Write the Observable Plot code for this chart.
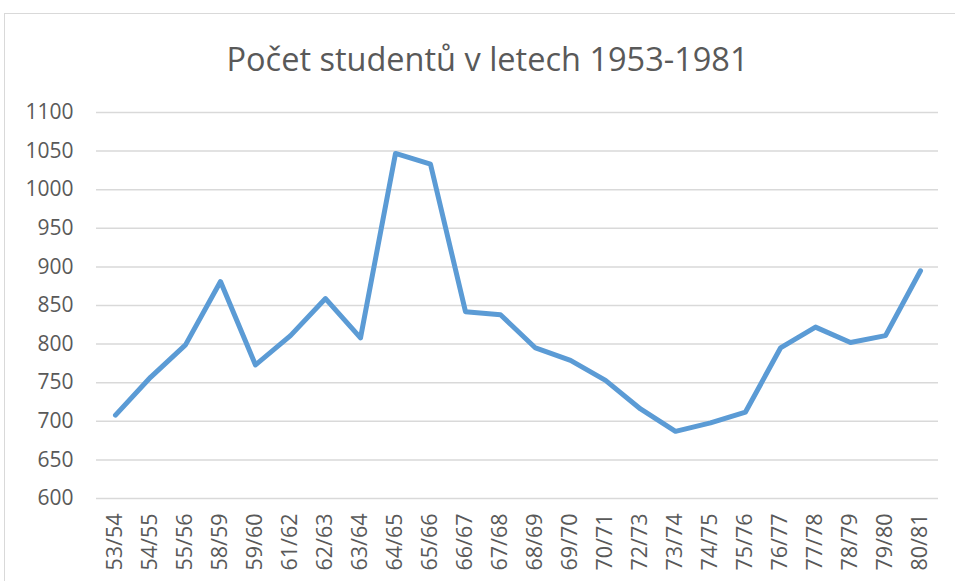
<!DOCTYPE html>
<html>
<head>
<meta charset="utf-8">
<script src="https://cdn.jsdelivr.net/npm/d3@7"></script>
<script src="https://cdn.jsdelivr.net/npm/@observablehq/plot@0.6"></script>
<style>
  html, body { margin: 0; padding: 0; background: #fff; }
  body { width: 955px; height: 581px; position: relative; overflow: hidden; font-family: "Open Sans", sans-serif; }
  #frame { position: absolute; left: 4px; top: 13px; width: 1000px; height: 700px; border-left: 1.5px solid #d9d9d9; border-top: 1.5px solid #d9d9d9; }
  #title { position: absolute; left: 0; width: 975px; top: 37px; text-align: center; font-size: 32.5px; line-height: 44px; color: #595959; font-family: "Open Sans", sans-serif; }
  #chart { position: absolute; left: 0; top: 93px; }
</style>
</head>
<body>
<div id="frame"></div>
<div id="title">Počet studentů v letech 1953-1981</div>
<div id="chart"></div>
<script>
const years = ["53/54","54/55","55/56","58/59","59/60","61/62","62/63","63/64","64/65","65/66","66/67","67/68","68/69","69/70","70/71","72/73","73/74","74/75","75/76","76/77","77/78","78/79","79/80","80/81"];
const students = [708, 757, 799, 881, 773, 811, 859, 808, 1047, 1033, 842, 838, 795, 779, 753, 716, 687, 698, 712, 795, 822, 802, 811, 895];
const yTicks = [600, 650, 700, 750, 800, 850, 900, 950, 1000, 1050, 1100];

const data = years.map((y, i) => ({year: y, value: students[i]}));

const chart = Plot.plot({
  width: 955,
  height: 488,
  marginTop: 19,
  marginBottom: 83,
  marginLeft: 96,
  marginRight: 17,
  style: {fontFamily: "Open Sans, sans-serif", background: "transparent"},
  x: {type: "point", domain: years, padding: 0.5, label: null},
  y: {domain: [600, 1100], label: null},
  marks: [
    Plot.gridY(yTicks, {stroke: "#d9d9d9", strokeOpacity: 1, strokeWidth: 1.5}),
    Plot.axisY(yTicks, {tickSize: 0, tickPadding: 23, fontSize: 21, fill: "#595959", label: null, tickFormat: d => String(d)}),
    Plot.axisX({tickSize: 0, tickPadding: 15, tickRotate: -90, fontSize: 21.5, fill: "#595959", label: null}),
    Plot.lineY(data, {x: "year", y: "value", stroke: "#5b9bd5", strokeWidth: 5, strokeLinejoin: "round", strokeLinecap: "round"})
  ]
});
document.getElementById("chart").appendChild(chart);
</script>
</body>
</html>
